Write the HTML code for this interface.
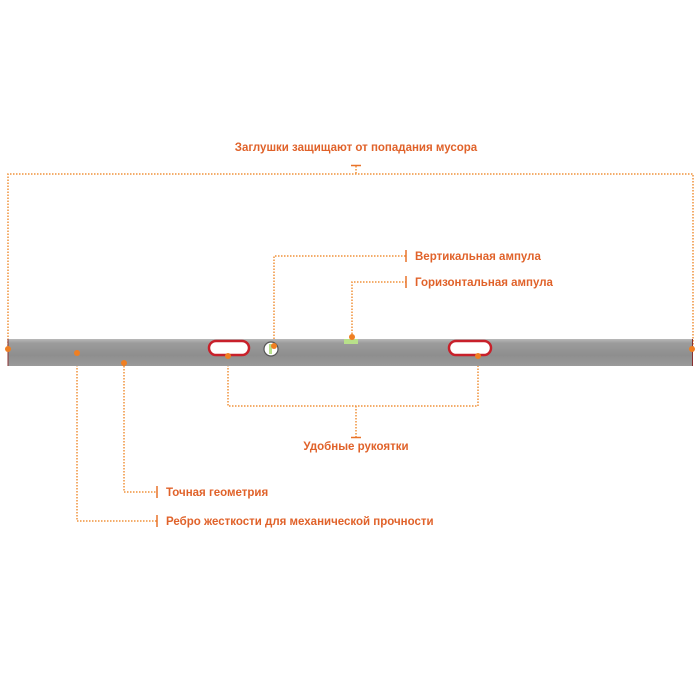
<!DOCTYPE html>
<html><head><meta charset="utf-8"><style>
html,body{margin:0;padding:0;background:#fff;}
svg{display:block}
text{font-family:"Liberation Sans",sans-serif;font-size:11.5px;font-weight:bold;fill:#e0622a;}
</style></head><body>
<svg width="700" height="700" viewBox="0 0 700 700">
<defs>
<linearGradient id="bar" x1="0" y1="0" x2="0" y2="1">
<stop offset="0" stop-color="#b8b8b8"/><stop offset="0.15" stop-color="#9c9c9c"/><stop offset="0.6" stop-color="#8e8e8e"/><stop offset="1" stop-color="#9a9a9a"/>
</linearGradient>
</defs>
<g stroke="#f0923a" stroke-width="1.5" stroke-dasharray="1.5 1.5" fill="none">
<!-- top -->
<polyline points="8,349 8,174 693,174 693,349"/>
<line x1="356" y1="166" x2="356" y2="174"/>
<!-- vertical ampula -->
<polyline points="274,345 274,256 406,256"/>
<!-- horizontal ampula -->
<polyline points="352,337 352,282 406,282"/>
<!-- handles -->
<polyline points="228,356 228,406 478,406 478,356"/>
<line x1="356" y1="406" x2="356" y2="437"/>
<!-- geometry -->
<polyline points="124,363 124,492 157,492"/>
<polyline points="77,353 77,521 157,521"/>
</g>
<g stroke="#e8732a" stroke-width="1.5">
<line x1="351" y1="165.5" x2="361" y2="165.5"/>
<line x1="406" y1="250" x2="406" y2="262"/>
<line x1="406" y1="276" x2="406" y2="288"/>
<line x1="351" y1="437.5" x2="361" y2="437.5"/>
<line x1="157" y1="486" x2="157" y2="498"/>
<line x1="157" y1="515" x2="157" y2="527"/>
</g>
<!-- bar -->
<rect x="8" y="339" width="685" height="27" fill="url(#bar)"/>
<line x1="8" y1="339" x2="8" y2="366" stroke="#8a3030" stroke-width="1"/>
<line x1="692.5" y1="339" x2="692.5" y2="366" stroke="#8a3030" stroke-width="1"/>
<!-- handles -->
<rect x="209" y="341" width="40" height="14" rx="7" fill="#fff" stroke="#c8202a" stroke-width="2.5"/>
<rect x="449" y="341" width="42" height="14" rx="7" fill="#fff" stroke="#c8202a" stroke-width="2.5"/>
<!-- vial circle -->
<circle cx="271" cy="349" r="7" fill="#fff" stroke="#555" stroke-width="1.2"/>
<rect x="269" y="344" width="3" height="10" fill="#b8e08a"/>
<!-- horizontal vial -->
<rect x="344" y="339" width="14" height="5" fill="#b8e08a"/>
<!-- dots -->
<g fill="#ef7f22">
<circle cx="8" cy="349" r="3"/>
<circle cx="692" cy="349" r="3"/>
<circle cx="274" cy="346" r="3"/>
<circle cx="352" cy="337" r="3"/>
<circle cx="228" cy="356" r="3"/>
<circle cx="478" cy="356" r="3"/>
<circle cx="77" cy="353" r="3"/>
<circle cx="124" cy="363" r="3"/>
</g>
<text x="356" y="151" text-anchor="middle">Заглушки защищают от попадания мусора</text>
<text x="415" y="260">Вертикальная ампула</text>
<text x="415" y="286">Горизонтальная ампула</text>
<text x="356" y="450" text-anchor="middle">Удобные рукоятки</text>
<text x="166" y="496">Точная геометрия</text>
<text x="166" y="525">Ребро жесткости для механической прочности</text>
</svg>
</body></html>
